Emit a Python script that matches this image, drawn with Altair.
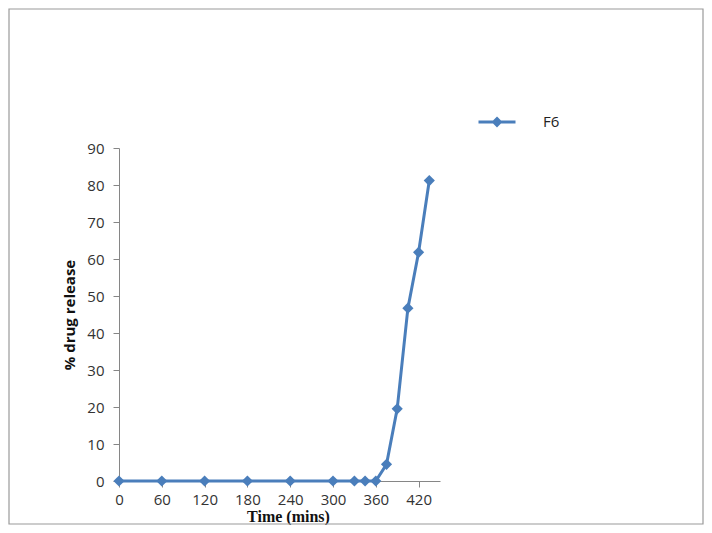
import altair as alt
import pandas as pd

time_min = [0, 60, 120, 180, 240, 300, 330, 345, 360, 375, 390, 405, 420, 435]
release = [0, 0, 0, 0, 0, 0, 0, 0, 0, 4.5, 19.5, 46.7, 61.8, 81.2]
series = ["F6"] * len(time_min)
x_ticks = [0, 60, 120, 180, 240, 300, 360, 420]
y_ticks = [0, 10, 20, 30, 40, 50, 60, 70, 80, 90]

BLUE = "#4A7EBB"
AXIS = "#868686"

df = pd.DataFrame({"time": time_min, "release": release, "series": series})

frame = alt.Chart(pd.DataFrame({"k": [0]})).mark_rect(
    fill=None, stroke="#9a9a9a", strokeWidth=1.2
).encode(
    x=alt.value(-110), x2=alt.value(584), y=alt.value(-139), y2=alt.value(376)
)

legend_symbol = "M-1,0H1M0,-0.18L0.18,0L0,0.18L-0.18,0Z"

line = alt.Chart(df).mark_line(
    strokeWidth=3,
    point=alt.OverlayMarkDef(shape="diamond", size=125, filled=True, color=BLUE, opacity=1),
).encode(
    x=alt.X("time:Q", scale=alt.Scale(domain=[0, 450], nice=False),
            axis=alt.Axis(values=x_ticks, title="Time (mins)", grid=False,
                          domainColor=AXIS, tickColor=AXIS, tickSize=6,
                          labelFlush=False, labelOverlap=False,
                          labelFont="Open Sans", labelFontSize=15, labelColor="#333333",
                          labelPadding=5, titleFont="Liberation Serif", titleFontSize=16,
                          titleFontWeight="bold", titleColor="#111111", titlePadding=1,
                          titleX=169, titleAlign="center")),
    y=alt.Y("release:Q", scale=alt.Scale(domain=[0, 90], nice=False),
            axis=alt.Axis(values=y_ticks, title="% drug release", grid=False,
                          domainColor=AXIS, tickColor=AXIS, tickSize=6,
                          labelFlush=False, labelOverlap=False,
                          labelFont="Open Sans", labelFontSize=15, labelColor="#333333",
                          labelPadding=9, titleFont="Open Sans", titleFontSize=15,
                          titleFontWeight="bold", titleColor="#111111", titlePadding=9)),
    color=alt.Color("series:N", scale=alt.Scale(range=[BLUE]),
                    legend=alt.Legend(title=None, orient="none", legendX=358, legendY=-46,
                                      symbolType=legend_symbol, symbolSize=1369,
                                      symbolStrokeWidth=3, symbolFillColor=BLUE,
                                      symbolStrokeColor=BLUE, symbolOpacity=1,
                                      labelFont="Open Sans", labelFontSize=15,
                                      labelColor="#222222", labelOffset=26, padding=0)),
)

chart = alt.layer(frame, line).properties(
    width=321, height=333,
    autosize=alt.AutoSizeParams(type="none"),
    padding={"left": 111, "top": 140, "right": 264, "bottom": 44},
    background="white",
).configure_view(stroke=None)

chart.save("out.html", embed_options={"renderer": "svg", "actions": False})
